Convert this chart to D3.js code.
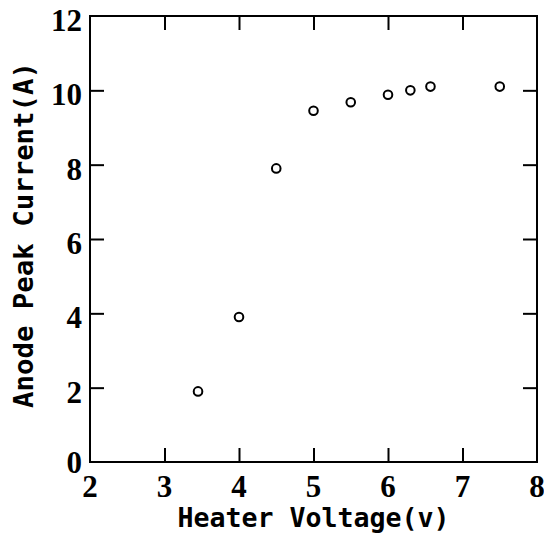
<!DOCTYPE html>
<html><head><meta charset="utf-8">
<script src="https://cdn.jsdelivr.net/npm/d3@7"></script>
<style>body{margin:0;background:#fff}svg{display:block}</style>
</head><body>
<svg id="c" width="544" height="535"></svg>
<script>
const heaterVoltage = [3.45, 4.0, 4.5, 5.0, 5.5, 6.0, 6.3, 6.57, 7.5];
const anodePeakCurrent = [1.9, 3.9, 7.9, 9.45, 9.68, 9.88, 10.0, 10.1, 10.1];
const xTicks = [2, 3, 4, 5, 6, 7, 8];
const yTicks = [0, 2, 4, 6, 8, 10, 12];
const xTitle = "Heater Voltage(v)";
const yTitle = "Anode Peak Current(A)";

const svg = d3.select("#c");
const L = 90, R = 537, T = 16, B = 462;
const x = d3.scaleLinear().domain([2, 8]).range([L, R]);
const y = d3.scaleLinear().domain([0, 12]).range([B, T]);
const tickFont = "'Liberation Serif', serif";
const titleFont = "'DejaVu Sans Mono', monospace";

// frame
svg.append("rect").attr("x", L).attr("y", T).attr("width", R - L).attr("height", B - T)
  .attr("fill", "none").attr("stroke", "#000").attr("stroke-width", 2);

// inward ticks, all four sides
const tl = 14;
const innerX = xTicks.slice(1, -1), innerY = yTicks.slice(1, -1);
const styleAxis = g => { g.select(".domain").remove(); g.selectAll("line").attr("stroke", "#000").attr("stroke-width", 2); };
svg.append("g").attr("transform", `translate(0,${B})`)
  .call(d3.axisBottom(x).tickValues(innerX).tickSizeInner(-tl).tickSizeOuter(0).tickFormat("")).call(styleAxis);
svg.append("g").attr("transform", `translate(0,${T})`)
  .call(d3.axisTop(x).tickValues(innerX).tickSizeInner(-tl).tickSizeOuter(0).tickFormat("")).call(styleAxis);
svg.append("g").attr("transform", `translate(${L},0)`)
  .call(d3.axisLeft(y).tickValues(innerY).tickSizeInner(-tl).tickSizeOuter(0).tickFormat("")).call(styleAxis);
svg.append("g").attr("transform", `translate(${R},0)`)
  .call(d3.axisRight(y).tickValues(innerY).tickSizeInner(-tl).tickSizeOuter(0).tickFormat("")).call(styleAxis);

// tick labels
svg.append("g").selectAll("text").data(xTicks).join("text")
  .attr("x", d => x(d)).attr("y", 497)
  .attr("text-anchor", "middle")
  .attr("font-family", tickFont).attr("font-weight", "bold").attr("font-size", 31)
  .text(d => d);
svg.append("g").selectAll("text").data(yTicks).join("text")
  .attr("x", 82).attr("y", d => y(d) + (d === 0 ? 11 : 15))
  .attr("text-anchor", "end")
  .attr("font-family", tickFont).attr("font-weight", "bold").attr("font-size", 31)
  .text(d => d);

// titles
svg.append("text").attr("x", (L + R) / 2).attr("y", 527)
  .attr("text-anchor", "middle")
  .attr("font-family", titleFont).attr("font-weight", "bold").attr("font-size", 27)
  .attr("textLength", 272).attr("lengthAdjust", "spacingAndGlyphs")
  .text(xTitle);
svg.append("text").attr("transform", `translate(33,${(T + B) / 2 - 4}) rotate(-90)`)
  .attr("text-anchor", "middle")
  .attr("font-family", titleFont).attr("font-weight", "bold").attr("font-size", 27)
  .attr("textLength", 346).attr("lengthAdjust", "spacingAndGlyphs")
  .text(yTitle);

// points
svg.append("g").selectAll("circle").data(heaterVoltage.map((v, i) => [v, anodePeakCurrent[i]])).join("circle")
  .attr("cx", d => x(d[0])).attr("cy", d => y(d[1])).attr("r", 4.3)
  .attr("fill", "#fff").attr("stroke", "#000").attr("stroke-width", 2);
</script>
</body></html>
